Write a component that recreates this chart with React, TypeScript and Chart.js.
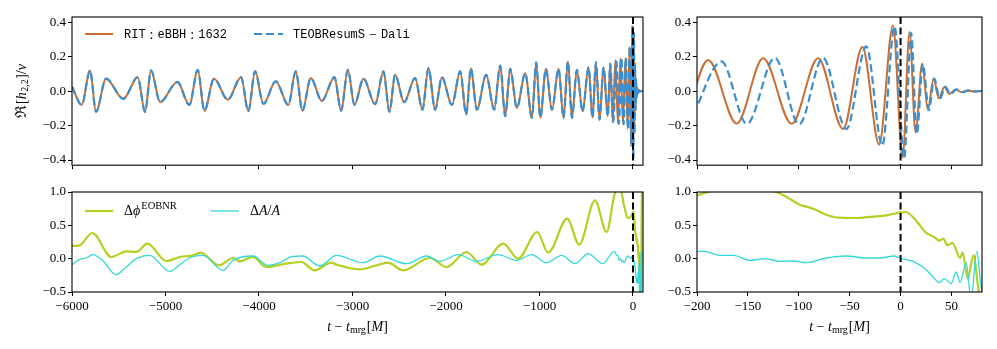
import React, { useEffect, useRef } from 'react';
import { Chart, registerables } from 'chart.js';

Chart.register(...registerables);

// ---------------- data ----------------
// shared inspiral extrema of Re[h22]/nu (both models overlap), t - t_mrg [M]
const inspT = [-6000, -5896, -5807, -5743, -5636, -5451, -5297, -5219, -5155, -5058, -4873, -4745, -4655, -4584, -4481, -4334, -4192, -4114, -4042, -3953, -3821, -3686, -3607, -3536, -3446, -3328, -3193, -3122, -3050, -2979, -2883, -2758, -2669, -2605, -2544, -2448, -2330, -2252, -2188, -2116, -2044, -1937, -1848, -1784, -1734, -1670, -1570, -1485, -1420, -1367, -1313, -1242, -1153, -1081, -1035, -992, -931, -867, -796, -743, -696, -653, -600, -540, -475, -433, -396, -358, -315, -270, -243, -216];
const inspH = [0.025, -0.08, 0.12, -0.12, 0.072, -0.045, 0.081, -0.12, 0.12, -0.064, 0.053, -0.08, 0.123, -0.114, 0.072, -0.05, 0.081, -0.117, 0.115, -0.074, 0.057, -0.08, 0.115, -0.114, 0.076, -0.057, 0.081, -0.114, 0.123, -0.08, 0.072, -0.076, 0.114, -0.12, 0.095, -0.064, 0.076, -0.108, 0.133, -0.108, 0.081, -0.08, 0.114, -0.136, 0.133, -0.108, 0.095, -0.108, 0.148, -0.146, 0.129, -0.098, 0.104, -0.155, 0.167, -0.155, 0.129, -0.108, 0.129, -0.155, 0.172, -0.155, 0.123, -0.117, 0.138, -0.155, 0.167, -0.165, 0.138, -0.146, 0.16, -0.18];

// RIT:eBBH:1632 late inspiral, merger and ringdown
const ritLateT = [-189, -161, -135, -107, -81, -56.5, -37.5, -21, -7.5, 2, 8.8, 14.7, 21.2, 26.8, 32.4, 37.6, 43.1, 48, 54, 60, 66, 72, 80, 107];
const ritLateH = [0.18, -0.188, 0.19, -0.19, 0.19, -0.22, 0.256, -0.31, 0.38, -0.385, 0.343, -0.24, 0.16, -0.108, 0.072, -0.042, 0.024, -0.017, 0.01, -0.006, 0.004, -0.002, 0, 0];

// TEOBResumS-Dali late inspiral, merger and ringdown
const teobLateT = [-212, -176, -151, -123.5, -99.7, -76.2, -53.3, -33.7, -18, -5.9, 3.5, 10.4, 15.9, 21.9, 27.8, 33, 38.5, 44, 49, 55, 61, 67, 73, 80, 107];
const teobLateH = [-0.18, 0.172, -0.19, 0.193, -0.193, 0.193, -0.22, 0.26, -0.316, 0.375, -0.39, 0.337, -0.25, 0.155, -0.11, 0.072, -0.045, 0.025, -0.018, 0.01, -0.006, 0.004, -0.002, 0, 0];

// Delta phi^EOBNR
const phaseT = [-6000, -5918, -5783, -5579, -5419, -5312, -5194, -4991, -4848, -4706, -4624, -4428, -4278, -4207, -4064, -3922, -3708, -3548, -3405, -3227, -3171, -2922, -2743, -2622, -2458, -2173, -1994, -1780, -1620, -1388, -1228, -1025, -907, -704, -575, -407, -282, -200, -160, -122, -112, -99, -86, -73, -60, -43, -27, -14, -1, 5, 15, 25, 33, 38, 42, 46, 51, 58.5, 61, 66, 71.6, 77, 82, 88, 95, 107];
const phaseV = [0.19, 0.2, 0.385, 0.025, 0.11, 0.1, 0.225, -0.035, 0.025, 0.05, 0.09, -0.1, 0.01, -0.04, 0.025, -0.125, -0.075, -0.05, -0.175, -0.06, -0.09, -0.16, -0.1, -0.06, -0.175, 0.01, -0.125, 0.1, -0.09, 0.225, 0.0, 0.4, 0.09, 0.6, 0.21, 0.875, 0.4, 0.95, 1.08, 1.0, 0.925, 0.81, 0.75, 0.66, 0.615, 0.61, 0.63, 0.65, 0.69, 0.7, 0.575, 0.39, 0.325, 0.27, 0.3, 0.2, 0.235, 0.01, 0.09, -0.3, 0.05, -0.5, -0.6, -0.4, 1.2, 1.2];

// Delta A / A
const ampT = [-6000, -5918, -5850, -5780, -5674, -5530, -5420, -5312, -5170, -4955, -4848, -4724, -4600, -4385, -4278, -4064, -3905, -3780, -3637, -3530, -3352, -3171, -2886, -2707, -2422, -2208, -2066, -1870, -1673, -1442, -1245, -1085, -924, -764, -621, -479, -325, -200, -193, -177.5, -164, -148, -133, -118.6, -106, -92.4, -73, -53.3, -33.6, -20.5, -5.9, -1, 12, 21.8, 30, 38.2, 43, 49.7, 54.6, 58.5, 64.4, 69.3, 74.9, 79, 86, 96, 107];
const ampV = [-0.09, -0.01, 0.01, 0.06, -0.025, -0.24, -0.125, 0.0, 0.05, -0.19, -0.09, 0.025, 0.05, -0.175, -0.025, 0.04, -0.1, -0.06, 0.035, 0.04, -0.11, 0.05, -0.06, 0.04, -0.075, 0.04, -0.04, 0.06, -0.04, 0.06, -0.025, 0.06, -0.06, 0.05, -0.075, 0.075, -0.075, 0.11, 0.11, 0.05, 0.05, -0.025, 0.0, -0.04, -0.035, -0.06, 0.01, 0.04, 0.01, 0.01, 0.04, 0.01, -0.04, -0.125, -0.24, -0.36, -0.3, -0.375, -0.2, -0.36, -0.06, -0.6, 0.11, -0.4, -0.8, 0.1, 0.1];

const leftXTicks = [-6000, -5000, -4000, -3000, -2000, -1000, 0];
const rightXTicks = [-200, -150, -100, -50, 0, 50];
const waveYTicks = [-0.4, -0.2, 0.0, 0.2, 0.4];
const diffYTicks = [-0.5, 0.0, 0.5, 1.0];
const mergerTime = 0;

// ---------------- styles ----------------
const C_RIT = '#c96f34';
const C_TEOB = '#3b8fd0';
const C_PHASE = '#b5d022';
const C_AMP = '#33d8d8';
const SERIF = "'Liberation Serif', 'DejaVu Serif', serif";
const MONO = "'Liberation Mono', 'DejaVu Sans Mono', monospace";
const F_MONO = `12px ${MONO}`;
const F_SER = `14px ${SERIF}`;
const F_IT = `italic 14px ${SERIF}`;

type Seg = { t: string; f: string; dy?: number; pre?: number };

function drawRich(ctx: CanvasRenderingContext2D, segs: Seg[], x: number, y: number, align: 'left' | 'center' = 'left') {
  let w = 0;
  for (const s of segs) {
    ctx.font = s.f;
    w += ctx.measureText(s.t).width + (s.pre || 0);
  }
  let cx = align === 'center' ? x - w / 2 : x;
  ctx.textAlign = 'left';
  ctx.textBaseline = 'middle';
  for (const s of segs) {
    ctx.font = s.f;
    cx += s.pre || 0;
    ctx.fillText(s.t, cx, y + (s.dy || 0));
    cx += ctx.measureText(s.t).width;
  }
}

const xLabelSegs: Seg[] = [
  { t: 't', f: F_IT },
  { t: '−', f: F_SER, pre: 3.5 },
  { t: 't', f: F_IT, pre: 3.5 },
  { t: 'mrg', f: `10px ${SERIF}`, dy: 3 },
  { t: '[', f: F_SER, pre: 1 },
  { t: 'M', f: F_IT },
  { t: ']', f: F_SER },
];

const pts = (xs: number[], ys: number[]) => xs.map((x, i) => ({ x, y: ys[i] }));

const ritData = pts(inspT.concat(ritLateT), inspH.concat(ritLateH));
const teobData = pts(inspT.slice(0, 71).concat(teobLateT), inspH.slice(0, 71).concat(teobLateH));
const phaseData = pts(phaseT, phaseV);
const ampData = pts(ampT, ampV);

function waveDatasets() {
  return [
    { data: ritData, borderColor: C_RIT, borderWidth: 2, order: 1, clip: 0 },
    { data: teobData, borderColor: C_TEOB, borderWidth: 2.2, borderDash: [8, 4], order: 0, clip: 0 },
  ];
}
function diffDatasets() {
  return [
    { data: phaseData, borderColor: C_PHASE, borderWidth: 2.2, order: 1, clip: 0 },
    { data: ampData, borderColor: C_AMP, borderWidth: 1.3, order: 0, clip: 0 },
  ];
}

type Spec = {
  left: number; top: number; w: number; h: number;
  xMin: number; xMax: number; yMin: number; yMax: number;
  xTicks: number[]; yTicks: number[]; xLabels: boolean;
  padTop: number; padRight: number; yWidth: number; xHeight: number;
  datasets: any[];
  extra?: (ctx: CanvasRenderingContext2D, chart: any) => void;
};

const fmtX = (v: number) => String(v).replace('-', '−');
const fmtY = (v: number) => Number(v).toFixed(1).replace('-', '−');

function buildConfig(s: Spec): any {
  const tickFont = { family: SERIF, size: 13 };
  return {
    type: 'line',
    data: { datasets: s.datasets },
    options: {
      animation: false,
      responsive: false,
      maintainAspectRatio: false,
      events: [],
      layout: { padding: { top: s.padTop, right: s.padRight, left: 0, bottom: 0 } },
      plugins: { legend: { display: false }, tooltip: { enabled: false }, title: { display: false } },
      elements: { point: { radius: 0 }, line: { cubicInterpolationMode: 'monotone', fill: false } },
      scales: {
        x: {
          type: 'linear', min: s.xMin, max: s.xMax,
          afterBuildTicks: (sc: any) => { sc.ticks = s.xTicks.map((v) => ({ value: v })); },
          afterFit: (sc: any) => { sc.height = s.xHeight; },
          grid: { drawOnChartArea: false, drawTicks: true, tickLength: 4, tickColor: '#000', tickWidth: 1 },
          border: { display: false },
          ticks: { display: s.xLabels, autoSkip: false, maxRotation: 0, padding: 3, color: '#000', font: tickFont, callback: (v: number) => fmtX(v) },
        },
        y: {
          type: 'linear', min: s.yMin, max: s.yMax,
          afterBuildTicks: (sc: any) => { sc.ticks = s.yTicks.map((v) => ({ value: v })); },
          afterFit: (sc: any) => { sc.width = s.yWidth; },
          grid: { drawOnChartArea: false, drawTicks: true, tickLength: 4, tickColor: '#000', tickWidth: 1 },
          border: { display: false },
          ticks: { autoSkip: false, padding: 2, color: '#000', font: tickFont, callback: (v: number) => fmtY(v) },
        },
      },
    },
    plugins: [
      {
        id: 'deco',
        afterDatasetsDraw(chart: any) {
          const ctx: CanvasRenderingContext2D = chart.ctx;
          const a = chart.chartArea;
          const x0 = chart.scales.x.getPixelForValue(mergerTime);
          ctx.save();
          ctx.strokeStyle = '#000';
          ctx.lineWidth = 2;
          ctx.setLineDash([7, 3.5]);
          ctx.beginPath();
          ctx.moveTo(x0, a.top);
          ctx.lineTo(x0, a.bottom);
          ctx.stroke();
          ctx.setLineDash([]);
          ctx.lineWidth = 1.1;
          ctx.strokeRect(a.left, a.top, a.right - a.left, a.bottom - a.top);
          ctx.restore();
          if (s.extra) {
            ctx.save();
            ctx.fillStyle = '#000';
            s.extra(ctx, chart);
            ctx.restore();
          }
        },
      },
    ],
  };
}

const specs: Spec[] = [
  {
    left: 0, top: 0, w: 660, h: 175,
    xMin: -6000, xMax: 107, yMin: -0.43, yMax: 0.43,
    xTicks: leftXTicks, yTicks: waveYTicks, xLabels: false,
    padTop: 17, padRight: 17, yWidth: 72, xHeight: 8,
    datasets: waveDatasets(),
    extra: (ctx) => {
      ctx.lineWidth = 2;
      ctx.strokeStyle = C_RIT;
      ctx.beginPath(); ctx.moveTo(85, 34); ctx.lineTo(113, 34); ctx.stroke();
      drawRich(ctx, [
        { t: 'RIT', f: F_MONO }, { t: ':', f: F_SER, pre: 4 }, { t: 'eBBH', f: F_MONO, pre: 4 },
        { t: ':', f: F_SER, pre: 4 }, { t: '1632', f: F_MONO, pre: 4 },
      ], 124, 35);
      ctx.strokeStyle = C_TEOB;
      ctx.lineWidth = 2.2;
      ctx.setLineDash([8, 4]);
      ctx.beginPath(); ctx.moveTo(254, 34); ctx.lineTo(283, 34); ctx.stroke();
      ctx.setLineDash([]);
      drawRich(ctx, [
        { t: 'TEOBResumS', f: F_MONO }, { t: '−', f: F_SER, pre: 4 }, { t: 'Dali', f: F_MONO, pre: 4 },
      ], 293, 35);
      ctx.translate(22, 91);
      ctx.rotate(-Math.PI / 2);
      drawRich(ctx, [
        { t: 'ℜ', f: `15px ${SERIF}` }, { t: '[', f: F_SER, pre: 1 }, { t: 'h', f: F_IT },
        { t: '2,2', f: `10px ${SERIF}`, dy: 3, pre: 0.5 }, { t: ']', f: F_SER, pre: 0.5 }, { t: '/', f: F_SER }, { t: 'ν', f: F_IT },
      ], 0, 0, 'center');
    },
  },
  {
    left: 650, top: 0, w: 347, h: 175,
    xMin: -200, xMax: 80, yMin: -0.43, yMax: 0.43,
    xTicks: rightXTicks, yTicks: waveYTicks, xLabels: false,
    padTop: 17, padRight: 15, yWidth: 47, xHeight: 8,
    datasets: waveDatasets(),
  },
  {
    left: 0, top: 175, w: 660, h: 174,
    xMin: -6000, xMax: 107, yMin: -0.5, yMax: 1.0,
    xTicks: leftXTicks, yTicks: diffYTicks, xLabels: true,
    padTop: 17, padRight: 17, yWidth: 72, xHeight: 57,
    datasets: diffDatasets(),
    extra: (ctx, chart) => {
      ctx.lineWidth = 2.2;
      ctx.strokeStyle = C_PHASE;
      ctx.beginPath(); ctx.moveTo(85, 36); ctx.lineTo(113, 36); ctx.stroke();
      drawRich(ctx, [
        { t: 'Δ', f: F_SER }, { t: 'ϕ', f: F_IT }, { t: 'EOBNR', f: `10.5px ${SERIF}`, dy: -5, pre: 1 },
      ], 124, 36);
      ctx.lineWidth = 1.3;
      ctx.strokeStyle = C_AMP;
      ctx.beginPath(); ctx.moveTo(211, 36); ctx.lineTo(239, 36); ctx.stroke();
      drawRich(ctx, [
        { t: 'Δ', f: F_SER }, { t: 'A', f: F_IT }, { t: '/', f: F_SER }, { t: 'A', f: F_IT },
      ], 250, 36);
      const a = chart.chartArea;
      drawRich(ctx, xLabelSegs, (a.left + a.right) / 2, 152, 'center');
    },
  },
  {
    left: 650, top: 175, w: 347, h: 174,
    xMin: -200, xMax: 80, yMin: -0.5, yMax: 1.0,
    xTicks: rightXTicks, yTicks: diffYTicks, xLabels: true,
    padTop: 17, padRight: 15, yWidth: 47, xHeight: 57,
    datasets: diffDatasets(),
    extra: (ctx, chart) => {
      const a = chart.chartArea;
      drawRich(ctx, xLabelSegs, (a.left + a.right) / 2, 152, 'center');
    },
  },
];

function Panel({ spec }: { spec: Spec }) {
  const ref = useRef<HTMLCanvasElement>(null);
  useEffect(() => {
    const chart = new Chart(ref.current as HTMLCanvasElement, buildConfig(spec));
    return () => chart.destroy();
  }, [spec]);
  return (
    <canvas
      ref={ref}
      width={spec.w}
      height={spec.h}
      style={{ position: 'absolute', left: spec.left, top: spec.top, width: spec.w, height: spec.h }}
    />
  );
}

export default function App() {
  return (
    <div style={{ position: 'absolute', left: 0, top: 0, width: 997, height: 349, background: '#fff', overflow: 'hidden' }}>
      {specs.map((s, i) => (
        <Panel key={i} spec={s} />
      ))}
    </div>
  );
}
